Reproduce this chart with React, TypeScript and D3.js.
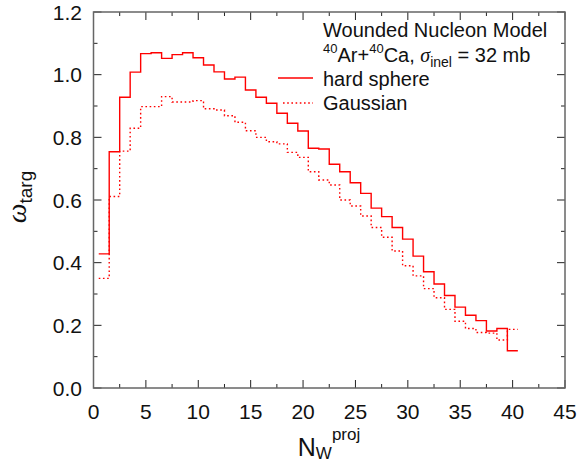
import React from "react";
import * as d3 from "d3";

const nBins = [1, 2, 3, 4, 5, 6, 7, 8, 9, 10, 11, 12, 13, 14, 15, 16, 17, 18, 19, 20,
  21, 22, 23, 24, 25, 26, 27, 28, 29, 30, 31, 32, 33, 34, 35, 36, 37, 38, 39, 40];

const hardSphere = [0.428, 0.754, 0.928, 1.008, 1.067, 1.070, 1.052, 1.064, 1.070, 1.054,
  1.031, 1.009, 0.986, 0.992, 0.951, 0.928, 0.909, 0.877, 0.845, 0.820,
  0.765, 0.763, 0.714, 0.690, 0.655, 0.621, 0.574, 0.547, 0.512, 0.475,
  0.421, 0.371, 0.332, 0.295, 0.258, 0.232, 0.215, 0.182, 0.190, 0.119];

const gaussian = [0.350, 0.611, 0.756, 0.829, 0.898, 0.898, 0.930, 0.913, 0.913, 0.917,
  0.891, 0.887, 0.869, 0.848, 0.821, 0.800, 0.786, 0.779, 0.752, 0.736,
  0.690, 0.664, 0.648, 0.600, 0.581, 0.549, 0.512, 0.481, 0.437, 0.390,
  0.358, 0.317, 0.288, 0.251, 0.213, 0.190, 0.177, 0.175, 0.153, 0.187];

const xTicks = [0, 5, 10, 15, 20, 25, 30, 35, 40, 45];
const xMinor = [2.5, 7.5, 12.5, 17.5, 22.5, 27.5, 32.5, 37.5, 42.5];
const yTicks = [0, 0.2, 0.4, 0.6, 0.8, 1.0, 1.2];
const yMinor = [0.1, 0.3, 0.5, 0.7, 0.9, 1.1];

const W = 584;
const H = 465;
const L = 93.5, R = 565, T = 12, B = 388;

const RED = "#ff0000";
const FONT = "'Liberation Sans', Arial, sans-serif";

export default function App() {
  const x = d3.scaleLinear().domain([0, 45]).range([L, R]);
  const y = d3.scaleLinear().domain([0, 1.2]).range([B, T]);

  const stepLine = (vals: number[]) => {
    const pts: [number, number][] = nBins.map((n, i) => [n - 0.5, vals[i]]);
    pts.push([nBins[nBins.length - 1] + 0.5, vals[vals.length - 1]]);
    return d3
      .line<[number, number]>()
      .x((d) => x(d[0]))
      .y((d) => y(d[1]))
      .curve(d3.curveStepAfter)(pts) as string;
  };

  const major = 8, minor = 4;
  const tickColor = "#222";

  return (
    <svg
      width={W}
      height={H}
      style={{ position: "absolute", left: 0, top: 0, background: "#fff" }}
      fontFamily={FONT}
    >
      <rect x={0} y={0} width={W} height={H} fill="#fff" />
      {/* data */}
      <path d={stepLine(hardSphere)} fill="none" stroke={RED} strokeWidth={1.4} />
      <path
        d={stepLine(gaussian)}
        fill="none"
        stroke={RED}
        strokeWidth={1.4}
        strokeDasharray="1.6,2.6"
      />

      {/* ticks */}
      <g stroke={tickColor} strokeWidth={1}>
        {xTicks.map((t) => (
          <g key={"xt" + t}>
            <line x1={x(t)} x2={x(t)} y1={B} y2={B - major} />
            <line x1={x(t)} x2={x(t)} y1={T} y2={T + major} />
          </g>
        ))}
        {xMinor.map((t) => (
          <g key={"xm" + t}>
            <line x1={x(t)} x2={x(t)} y1={B} y2={B - minor} />
            <line x1={x(t)} x2={x(t)} y1={T} y2={T + minor} />
          </g>
        ))}
        {yTicks.map((t) => (
          <g key={"yt" + t}>
            <line x1={L} x2={L + major} y1={y(t)} y2={y(t)} />
            <line x1={R} x2={R - major} y1={y(t)} y2={y(t)} />
          </g>
        ))}
        {yMinor.map((t) => (
          <g key={"ym" + t}>
            <line x1={L} x2={L + minor} y1={y(t)} y2={y(t)} />
            <line x1={R} x2={R - minor} y1={y(t)} y2={y(t)} />
          </g>
        ))}
      </g>
      {/* frame */}
      <rect x={L} y={T} width={R - L} height={B - T} fill="none" stroke="#666" strokeWidth={1.5} />

      {/* tick labels */}
      <g fontSize={21} fill="#111">
        {xTicks.map((t) => (
          <text key={"xl" + t} x={x(t)} y={419} textAnchor="middle">
            {t}
          </text>
        ))}
        {yTicks.map((t) => (
          <text key={"yl" + t} x={82} y={y(t) + 7.5} textAnchor="end">
            {t.toFixed(1)}
          </text>
        ))}
      </g>

      {/* y title */}
      <text transform="translate(26,197) rotate(-90)" textAnchor="middle" fill="#111">
        <tspan fontSize={28} fontFamily="'Liberation Serif', serif" fontStyle="italic">
          ω
        </tspan>
        <tspan fontSize={19} dy={6}>targ</tspan>
      </text>

      {/* x title */}
      <text x={329} y={456} textAnchor="middle" fill="#111">
        <tspan fontSize={25}>N</tspan>
        <tspan fontSize={17} dy={3}>W</tspan>
        <tspan fontSize={17} dy={-19}>proj</tspan>
      </text>

      {/* legend */}
      <g fill="#111" fontSize={20}>
        <text x={323} y={37}>Wounded Nucleon Model</text>
        <text x={323} y={62}>
          <tspan fontSize={13} dy={-9}>40</tspan>
          <tspan dy={9}>Ar+</tspan>
          <tspan fontSize={13} dy={-9}>40</tspan>
          <tspan dy={9}>Ca, </tspan>
          <tspan fontFamily="'Liberation Serif', serif" fontStyle="italic">σ</tspan>
          <tspan fontSize={14} dy={5}>inel</tspan>
          <tspan dy={-5}> = 32 mb</tspan>
        </text>
        <text x={323} y={86}>hard sphere</text>
        <text x={323} y={110}>Gaussian</text>
      </g>
      <line x1={278} x2={313} y1={78} y2={78} stroke={RED} strokeWidth={1.4} />
      <line x1={283} x2={313} y1={103} y2={103} stroke={RED} strokeWidth={1.4} strokeDasharray="1.6,2.6" />
    </svg>
  );
}
